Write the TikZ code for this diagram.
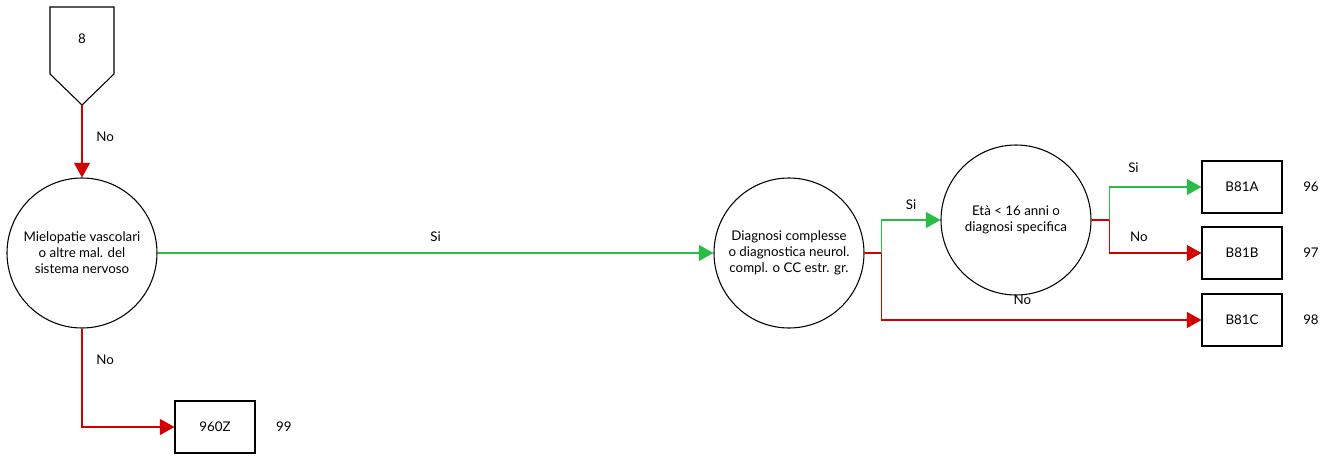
\documentclass[tikz,border=0pt]{standalone}
\usepackage{fontspec}
\setmainfont{Lato}
\usetikzlibrary{positioning,arrows.meta}

\definecolor{yesgreen}{RGB}{40,190,70}
\definecolor{nored}{RGB}{210,0,0}

\begin{document}
\begin{tikzpicture}[
  x=0.75pt,y=-0.75pt,
  every node/.style={font=\fontsize{10}{12}\selectfont},
  decision/.style={draw,circle,minimum size=112.5pt,inner sep=0pt,align=center,line width=0.8pt},
  outcome/.style={draw,rectangle,minimum width=60pt,minimum height=39pt,line width=0.8pt},
  yes-line/.style={draw=yesgreen,line width=1pt},
  no-line/.style={draw=nored,line width=1pt},
  yes-edge/.style={yes-line,-{Triangle[length=11pt,width=12pt,fill=yesgreen]}},
  no-edge/.style={no-line,-{Triangle[length=11pt,width=12pt,fill=nored]}},
  drg-num/.style={right=12pt of #1},
  ]
  \useasboundingbox (0,0) rectangle (1340,457);

  % off-page connector
  \draw[line width=0.8pt] (50,7) -- (114,7) -- (114,74) -- (82,105) coordinate (in8-tip) -- (50,74) -- cycle;
  \node (in8-text) at (82,39) {8};

  \node[decision] (mielo) at (82,253) {Mielopatie vascolari\\o altre mal. del\\sistema nervoso};
  \node[decision] (diagn) at (789,253) {Diagnosi complesse\\o diagnostica neurol.\\compl. o CC estr. gr.};
  \node[decision] (eta) at (1016,220) {Età < 16 anni o\\diagnosi specifica};

  \node[outcome] (z960) at (215,427) {960Z};
  \node[outcome] (b81a) at (1242,187) {B81A};
  \node[outcome] (b81b) at (1242,253) {B81B};
  \node[outcome] (b81c) at (1242,320) {B81C};

  \node[drg-num=z960] (z960-num) {99};
  \node[drg-num=b81a] (b81a-num) {96};
  \node[drg-num=b81b] (b81b-num) {97};
  \node[drg-num=b81c] (b81c-num) {98};

  \draw[no-edge] (in8-tip) -- node[pos=0.44,right=7pt] {No} (mielo.north);
  \draw[no-edge] (mielo.south) |- node[pos=0.16,right=7pt] {No} (z960.west);
  \draw[yes-edge] (mielo.east) -- node[midway,above=5pt] {Si} (diagn.west);

  \draw[no-line] (diagn.east) -- ++(17,0) coordinate (diagn-fork);
  \draw[yes-edge] (diagn-fork) |- node[pos=0.75,above=4pt] {Si} (eta.west);
  \draw[no-edge] (diagn-fork) |- node[pos=0.72,above=8pt] {No} (b81c.west);

  \draw[no-line] (eta.east) -- ++(18,0) coordinate (eta-fork);
  \draw[yes-edge] (eta-fork) |- node[pos=0.63,above=7pt] {Si} (b81a.west);
  \draw[no-edge] (eta-fork) |- node[pos=0.66,above=5pt] {No} (b81b.west);

\end{tikzpicture}
\end{document}
